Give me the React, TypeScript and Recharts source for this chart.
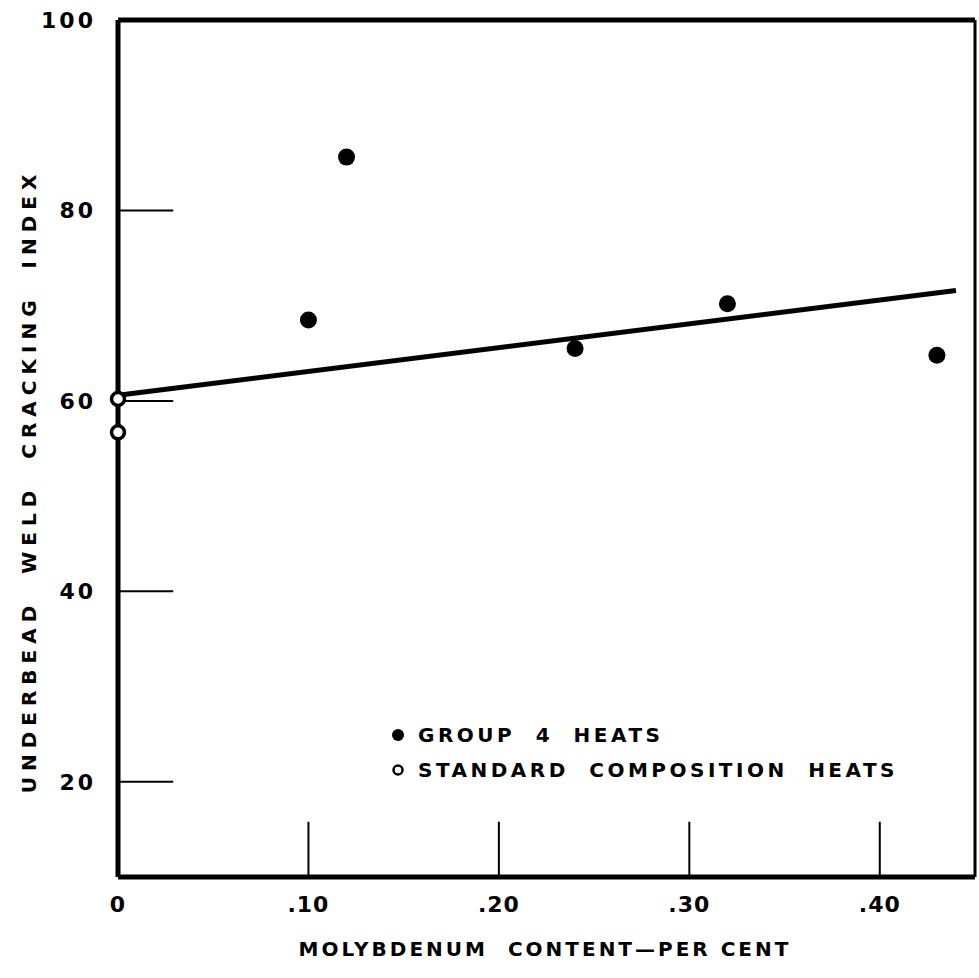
import { ComposedChart, Scatter, Line, XAxis, YAxis, ReferenceLine, Legend, Label } from 'recharts'

// values
const groupMo = [0.1, 0.12, 0.24, 0.32, 0.43]
const groupIndex = [68.5, 85.6, 65.5, 70.2, 64.8]
const standardMo = [0, 0]
const standardIndex = [60.2, 56.7]
const fitMo = [0, 0.44]
const fitIndex = [60.6, 71.6]
const xTicks = [0, 0.1, 0.2, 0.3, 0.4]
const xTickLabels = ['0', '.10', '.20', '.30', '.40']
const yTicks = [20, 40, 60, 80, 100]
const legendNames = ['GROUP 4 HEATS', 'STANDARD COMPOSITION HEATS']

const groupData = groupMo.map((x, i) => ({ x, y: groupIndex[i] }))
const standardData = standardMo.map((x, i) => ({ x, y: standardIndex[i] }))
const fitData = fitMo.map((x, i) => ({ x, y: fitIndex[i] }))

const FONT = '"DejaVu Sans", sans-serif'

function FilledDot({ cx, cy }: { cx?: number; cy?: number }) {
  return <circle cx={cx} cy={cy} r={8.5} fill="#000" />
}

function OpenDot({ cx, cy }: { cx?: number; cy?: number }) {
  return <circle cx={cx} cy={cy} r={6.5} fill="#fff" stroke="#000" strokeWidth={3.5} />
}

function XTick({ x, y, payload, index }: any) {
  return (
    <text x={x} y={y} dy={35} textAnchor="middle" fontFamily={FONT} fontWeight="bold" fontSize={22} fill="#000" letterSpacing={1}>
      {xTickLabels[index] ?? payload.value}
    </text>
  )
}

function YTick({ x, y, payload }: any) {
  return (
    <text x={x - 22} y={y} dy={8} textAnchor="end" fontFamily={FONT} fontWeight="bold" fontSize={22} fill="#000" letterSpacing={3}>
      {payload.value}
    </text>
  )
}

function LegendBox() {
  return (
    <div style={{ fontFamily: FONT, fontWeight: 'bold', fontSize: 20, letterSpacing: 3.5, wordSpacing: 10, color: '#000' }}>
      {legendNames.map((name, i) => (
        <div key={name} style={{ display: 'flex', alignItems: 'center', height: 35 }}>
          <svg width={20} height={20} style={{ marginRight: 10 }}>
            {i === 0
              ? <circle cx={10} cy={10} r={6} fill="#000" />
              : <circle cx={10} cy={10} r={4.5} fill="#fff" stroke="#000" strokeWidth={2.5} />}
          </svg>
          <span>{name}</span>
        </div>
      ))}
    </div>
  )
}

export default function App() {
  return (
    <div style={{ position: 'absolute', left: 0, top: 0, background: '#fff' }}>
      <ComposedChart width={979} height={978} margin={{ top: 20, right: 4, left: 0, bottom: 0 }}>
        <XAxis
          type="number"
          dataKey="x"
          domain={[0, 0.45]}
          ticks={xTicks}
          height={101}
          tickSize={0}
          tickMargin={0}
          tickLine={false}
          axisLine={{ stroke: '#000', strokeWidth: 5 }}
          tick={<XTick />}
        >
          <Label
            content={() => (
              <text x={545} y={956} textAnchor="middle" fontFamily={FONT} fontWeight="bold" fontSize={20} letterSpacing={3} fill="#000" xmlSpace="preserve">
                MOLYBDENUM  CONTENT—PER CENT
              </text>
            )}
          />
        </XAxis>
        <YAxis
          type="number"
          dataKey="y"
          domain={[10, 100]}
          ticks={yTicks}
          width={118}
          tickSize={0}
          tickMargin={0}
          tickLine={false}
          axisLine={{ stroke: '#000', strokeWidth: 5 }}
          tick={<YTick />}
        >
          <Label
            content={() => (
              <text x={36} y={481} transform="rotate(-90 36 481)" textAnchor="middle" fontFamily={FONT} fontWeight="bold" fontSize={20} letterSpacing={6} fill="#000" xmlSpace="preserve">
                UNDERBEAD  WELD  CRACKING  INDEX
              </text>
            )}
          />
        </YAxis>

        {/* frame */}
        <ReferenceLine y={100} stroke="#000" strokeWidth={5} ifOverflow="visible" />
        <ReferenceLine x={0.45} stroke="#000" strokeWidth={3} ifOverflow="visible" />

        {/* inner tick marks */}
        {yTicks.filter(v => v < 100).map(v => (
          <ReferenceLine key={'y' + v} segment={[{ x: 0, y: v }, { x: 0.029, y: v }]} stroke="#000" strokeWidth={2} ifOverflow="visible" />
        ))}
        {xTicks.filter(v => v > 0).map(v => (
          <ReferenceLine key={'x' + v} segment={[{ x: v, y: 10 }, { x: v, y: 15.8 }]} stroke="#000" strokeWidth={2} ifOverflow="visible" />
        ))}

        <Line data={fitData} dataKey="y" type="linear" stroke="#000" strokeWidth={5} dot={false} activeDot={false} isAnimationActive={false} legendType="none" />
        <Scatter name={legendNames[0]} data={groupData} shape={<FilledDot />} isAnimationActive={false} />
        <Scatter name={legendNames[1]} data={standardData} shape={<OpenDot />} isAnimationActive={false} />

        <Legend
          layout="vertical"
          align="center"
          verticalAlign="middle"
          wrapperStyle={{ position: 'absolute', left: 388, top: 717, width: 580, height: 70 }}
          content={() => <LegendBox />}
        />
      </ComposedChart>
    </div>
  )
}
